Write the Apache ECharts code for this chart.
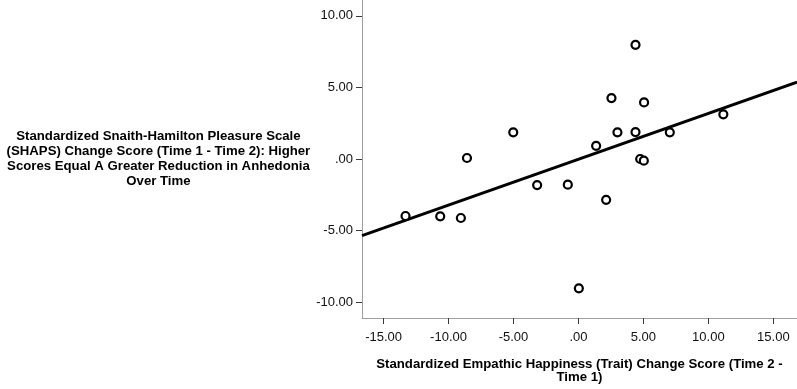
<!DOCTYPE html>
<html>
<head>
<meta charset="utf-8">
<script src="https://cdn.jsdelivr.net/npm/echarts@6/dist/echarts.min.js"></script>
<style>
  html, body { margin: 0; padding: 0; background: #fff; }
  #chart { width: 797px; height: 389px; }
</style>
</head>
<body>
<div id="chart"></div>
<script>
// empathic happiness change (x) vs SHAPS change (y)
const empathyChange = [-13.31, -10.64, -9.05, -8.58, -5.02, -3.18, -0.82, 0.03, 1.36, 2.13,
  2.54, 3.0, 4.39, 4.39, 4.75, 5.03, 5.05, 7.03, 11.15];
const shapsChange = [-3.98, -4.0, -4.12, 0.07, 1.86, -1.82, -1.79, -9.03, 0.92, -2.85,
  4.25, 1.86, 7.97, 1.88, 0.0, -0.12, 3.95, 1.86, 3.12];

// fit line as drawn
const fitSlope = 0.32;
const fitIntercept = -0.02;

const xTicks = [-15, -10, -5, 0, 5, 10, 15];
const yTicks = [-10, -5, 0, 5, 10];
const xRange = [-16.66, 16.82];
const yRange = [-11.1, 11.1];

const points = empathyChange.map((x, i) => [x, shapsChange[i]]);
const fitLine = xRange.map((x) => [x, fitSlope * x + fitIntercept]);

function fmt(v) {
  if (v === 0) return ".00";
  return v.toFixed(2);
}

const axisGray = "#a0a0a0";
const tickColor = "#3a3a3a";
const nameStyle = {
  color: "#000",
  fontFamily: "Liberation Sans, Arial",
  fontWeight: "bold",
  align: "center",
};

const chart = echarts.init(document.getElementById("chart"));
chart.setOption({
  animation: false,
  grid: { left: 362, top: 0, right: 0, bottom: 67 },
  xAxis: {
    type: "value",
    min: xRange[0],
    max: xRange[1],
    name: "Standardized Empathic Happiness (Trait) Change Score (Time 2 -\nTime 1)",
    nameLocation: "middle",
    nameGap: 40,
    nameTextStyle: Object.assign({}, nameStyle, { fontSize: 13.2, lineHeight: 13 }),
    axisLine: { show: true, onZero: false, lineStyle: { color: axisGray, width: 1 } },
    axisTick: { show: true, length: 6, lineStyle: { color: tickColor, width: 1 }, customValues: xTicks },
    axisLabel: {
      customValues: xTicks,
      formatter: fmt,
      color: "#111",
      fontFamily: "Liberation Sans, Arial",
      fontSize: 13,
      margin: 13,
    },
    splitLine: { show: false },
  },
  yAxis: {
    type: "value",
    min: yRange[0],
    max: yRange[1],
    name: "Standardized Snaith-Hamilton Pleasure Scale\n(SHAPS) Change Score (Time 1 - Time 2): Higher\nScores Equal A Greater Reduction in Anhedonia\nOver Time",
    nameLocation: "middle",
    nameRotate: 0,
    nameGap: 201,
    nameTextStyle: Object.assign({}, nameStyle, { fontSize: 13.2, lineHeight: 15, verticalAlign: "middle" }),
    axisLine: { show: true, onZero: false, lineStyle: { color: axisGray, width: 1 } },
    axisTick: { show: true, length: 6, lineStyle: { color: tickColor, width: 1 }, customValues: yTicks },
    axisLabel: {
      customValues: yTicks,
      formatter: fmt,
      color: "#111",
      fontFamily: "Liberation Sans, Arial",
      fontSize: 13,
      margin: 9,
    },
    splitLine: { show: false },
  },
  series: [
    {
      type: "line",
      data: fitLine,
      symbol: "none",
      lineStyle: { color: "#000", width: 3 },
      silent: true,
      z: 2,
    },
    {
      type: "scatter",
      data: points,
      symbol: "circle",
      symbolSize: 8,
      itemStyle: { color: "#fff", borderColor: "#000", borderWidth: 2.2, opacity: 1 },
      z: 3,
    },
  ],
});
</script>
</body>
</html>
